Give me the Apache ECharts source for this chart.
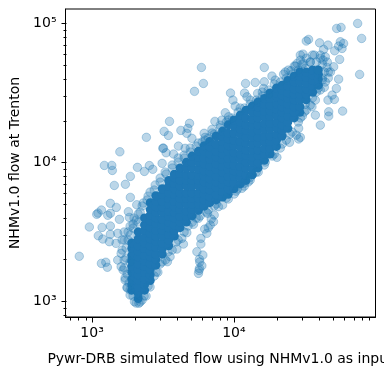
<!DOCTYPE html>
<html>
<head>
<meta charset="utf-8">
<style>html,body{margin:0;padding:0;background:#fff}#c{width:384px;height:375px}</style>
<script src="https://cdn.jsdelivr.net/npm/echarts@6/dist/echarts.min.js"></script>
</head>
<body>
<div id="c"></div>
<script>
// log10 of flows
const scatteredLog = [
[3.383,4.180],[3.196,4.076],[3.087,3.978],[3.139,3.978],[3.143,3.942],[3.320,3.964],[3.404,3.977],[3.369,3.935],[3.270,3.899],[3.235,3.842],[3.157,3.834],[3.270,3.748],[3.129,3.705],[3.171,3.676],[3.066,3.657],[3.033,3.626],[3.042,3.635],[2.981,3.535],[3.071,3.532],[3.129,3.633],[3.111,3.619],[3.129,3.542],[3.193,3.590],[3.256,3.645],[3.315,3.695],[3.263,3.604],[3.499,4.101],[3.494,3.993],[3.428,3.950],[2.910,3.324],[3.066,3.273],[3.097,3.281],[3.108,3.245],[3.181,3.297],[3.044,3.472],[3.076,3.448],[3.129,3.482],[3.122,3.429],[3.169,3.417],[3.181,3.489],[3.205,3.345],[3.205,3.249],[3.464,3.209],[3.247,3.101],[3.517,3.297],
[3.750,3.201],[3.757,3.237],[3.774,3.256],[3.757,3.302],[3.781,3.333],[3.739,3.357],[3.767,3.412],[3.767,3.453],[3.809,3.489],[3.833,3.549],[3.856,3.573],[3.861,3.621],[3.814,3.633],[3.759,3.283],[3.754,3.222],[3.794,3.520],[3.819,3.529],[3.840,3.592],
[3.531,3.285],[3.550,3.321],[3.598,3.376],[3.644,3.412],[3.633,3.453],[3.668,3.494],[3.715,3.554],[3.750,3.597],[3.920,3.693],[3.891,3.681],[4.056,3.813],[4.073,3.849],[4.025,3.808],[4.115,3.892],
[3.771,4.683],[3.785,4.568],[3.722,4.511],[3.546,4.295],[3.508,4.223],[3.538,4.194],[3.687,4.281],[3.626,4.230],[3.675,4.245],[3.668,4.209],[3.704,4.173],[3.503,4.103],[3.609,4.117],[3.656,4.101],[3.574,4.060],[3.522,4.069],[3.866,4.295],[3.845,4.237],[3.790,4.209],[3.797,4.180],[3.939,4.357],[4.082,4.568],[3.976,4.499],[3.993,4.448],[4.075,4.499],[4.092,4.472],[4.009,4.405],[3.962,4.328],[3.915,4.304],
[4.766,4.369],[4.722,4.532],[4.738,4.599],[4.692,4.484],[4.708,4.453],[4.663,4.448],[4.668,4.364],[4.668,4.333],[4.609,4.268],[4.574,4.340],[4.637,4.540],[4.550,4.400],[4.456,4.245],[4.392,4.144],[4.468,4.180],[4.440,4.196],[4.456,4.168],[4.303,4.036],[4.268,4.621],[4.214,4.683],[4.150,4.575],[4.214,4.580],[4.167,4.496],[4.209,4.532],[4.350,4.635],[4.402,4.659],[4.480,4.707],[4.244,4.489],[4.703,4.688],[4.656,4.683],[4.872,5.000],[4.755,4.971],[4.724,4.964],[4.900,4.892],[4.886,4.633],[4.526,4.885],[4.510,4.873],[4.604,4.860],[4.663,4.844],[4.750,4.868],[4.773,4.856],[4.738,4.837],[4.762,4.820],[4.710,4.803],[4.632,4.813],[4.487,4.779],[4.468,4.772],[4.567,4.772],[4.609,4.772],[4.644,4.760],[4.745,4.741],[4.628,4.736],[4.491,4.712],[4.445,4.712],
[3.226,3.499],[3.254,3.441],[3.212,3.441],[3.240,3.383],[3.268,3.477],[3.240,3.312],[3.268,3.283],[3.226,3.240],[3.247,3.196],[3.233,3.153],[3.261,3.132],[3.268,3.081],[3.289,3.038],[3.289,3.527],[3.325,3.570],[3.296,3.599],[3.339,3.642],[3.353,3.686],[3.388,3.729],[3.409,3.786],[3.445,3.837],[3.480,3.887],[3.515,3.930],[3.565,3.981],[3.607,4.031],[3.649,4.052],[3.692,4.103],[3.748,4.139],[3.797,4.160],[3.847,4.211],[3.903,4.268],[3.960,4.304],[4.044,4.391],[4.115,4.448],[4.200,4.506],[4.291,4.592],[4.362,4.650],[4.433,4.693],[4.538,4.722],
[3.409,3.103],[3.381,3.038],[3.330,2.986],[3.299,2.997],[3.353,3.009],[3.452,3.211],[3.494,3.283],[3.565,3.369],[3.607,3.441],[3.677,3.542],[3.734,3.599],[3.804,3.642],[3.861,3.686],[3.960,3.736],[4.002,3.772],[4.101,3.858],[4.157,3.930],[4.221,4.002],[4.284,4.060],[4.341,4.132],[4.397,4.204],[4.468,4.319],[4.510,4.376],[4.581,4.506],[4.623,4.592],[4.665,4.650],
[4.503,4.678],[4.538,4.722],[4.581,4.722],[4.623,4.707],[4.658,4.722],[4.680,4.650],[4.665,4.607],[4.609,4.750],[4.553,4.772],[4.510,4.750],[4.454,4.664],[4.411,4.635],[4.369,4.607],[4.327,4.578],[4.284,4.564],[4.242,4.521],[4.200,4.478],[4.157,4.448],[4.115,4.419],[4.073,4.391],[4.030,4.362],[3.988,4.319],[3.946,4.290],[3.903,4.247],[3.861,4.203],[3.819,4.175],[3.776,4.146],[3.734,4.117],[3.692,4.074],[3.649,4.031],[3.607,4.002],[3.565,3.959],[3.522,3.916],[3.480,3.858],[3.438,3.801],[3.395,3.757],[3.360,3.707],[3.325,3.628],[3.289,3.556],[3.254,3.499],[3.226,3.441],[3.212,3.369],[3.226,3.297],[3.219,3.225],[3.233,3.168],[3.247,3.096],[3.268,3.045],
[4.644,4.578],[4.609,4.521],[4.574,4.448],[4.538,4.412],[4.496,4.362],[4.454,4.290],[4.411,4.218],[4.369,4.160],[4.327,4.103],[4.270,4.045],[4.214,3.981],[4.171,3.930],[4.115,3.873],[4.073,3.829],[4.016,3.793],[3.946,3.743],[3.875,3.700],[3.819,3.657],[3.762,3.614],[3.706,3.570],[3.649,3.499],[3.593,3.427],[3.536,3.355],[3.480,3.268],[3.438,3.182],[3.395,3.110],[3.367,3.038],[3.339,2.995],[3.311,2.987],
[3.268,3.541],[3.311,3.585],[4.468,4.736],[4.425,4.693],[4.383,4.664],[4.588,4.664],[4.637,4.650],[4.623,4.607],[4.595,4.535],[4.553,4.463],[4.503,4.419],[4.482,4.333]
];
// dense body of the cloud, grouped by input flow
const denseInputLog = [3.28,3.325,3.37,3.41,3.45,3.495,3.54,3.58,3.62,3.665,3.705,3.75,3.79,3.83,3.875,3.92,3.96,4.00,4.045,4.085,4.13,4.17,4.215,4.255,4.30,4.34,4.38,4.425,4.465,4.51,4.555,4.595];
const denseTrentonLog = [
[3.08,3.12,3.16,3.21,3.25,3.29,3.33,3.38,3.42],
[3.02,3.06,3.10,3.15,3.19,3.23,3.27,3.32,3.36,3.40,3.45,3.50],
[3.08,3.12,3.16,3.21,3.25,3.29,3.33,3.38,3.42,3.46,3.51,3.55,3.60],
[3.15,3.19,3.23,3.27,3.32,3.36,3.40,3.45,3.49,3.53,3.58,3.62,3.66,3.71],
[3.26,3.30,3.34,3.39,3.43,3.47,3.51,3.56,3.60,3.64,3.68,3.72,3.76],
[3.34,3.38,3.42,3.47,3.51,3.55,3.59,3.64,3.68,3.72,3.77,3.81],
[3.40,3.44,3.48,3.53,3.57,3.61,3.65,3.70,3.74,3.78,3.83,3.87],
[3.47,3.51,3.55,3.60,3.64,3.68,3.72,3.77,3.81,3.85,3.89,3.915],
[3.53,3.57,3.61,3.66,3.70,3.74,3.78,3.83,3.87,3.92,3.96],
[3.57,3.61,3.65,3.70,3.74,3.78,3.83,3.87,3.91,3.96,4.00],
[3.615,3.66,3.70,3.74,3.78,3.83,3.87,3.91,3.96,4.00,4.045],
[3.655,3.70,3.74,3.78,3.83,3.87,3.91,3.95,4.00,4.04,4.08],
[3.685,3.73,3.77,3.81,3.86,3.90,3.94,3.99,4.03,4.08,4.12],
[3.71,3.75,3.80,3.84,3.88,3.93,3.97,4.02,4.06,4.11,4.15],
[3.73,3.77,3.82,3.86,3.90,3.95,3.99,4.04,4.08,4.13,4.19],
[3.75,3.79,3.84,3.88,3.93,3.97,4.02,4.06,4.10,4.15,4.19,4.225],
[3.77,3.81,3.86,3.90,3.95,3.99,4.03,4.08,4.12,4.17,4.21,4.27],
[3.81,3.85,3.90,3.94,3.98,4.03,4.07,4.12,4.16,4.21,4.26,4.305],
[3.845,3.89,3.93,3.97,4.02,4.06,4.11,4.15,4.20,4.24,4.29,4.34],
[3.87,3.91,3.96,4.00,4.05,4.09,4.14,4.18,4.23,4.27,4.32,4.375],
[3.91,3.95,4.00,4.04,4.09,4.13,4.18,4.22,4.27,4.31,4.36,4.405],
[3.96,4.00,4.05,4.09,4.14,4.18,4.23,4.27,4.32,4.36,4.40,4.435],
[4.015,4.06,4.10,4.15,4.19,4.24,4.28,4.33,4.37,4.42,4.46],
[4.06,4.10,4.15,4.19,4.24,4.28,4.33,4.37,4.41,4.46,4.50],
[4.115,4.16,4.20,4.25,4.29,4.34,4.38,4.42,4.47,4.50,4.535],
[4.19,4.23,4.27,4.32,4.36,4.40,4.44,4.48,4.52,4.555],
[4.245,4.29,4.33,4.38,4.42,4.46,4.50,4.55,4.59],
[4.32,4.36,4.40,4.45,4.49,4.53,4.58,4.62],
[4.36,4.40,4.45,4.49,4.53,4.58,4.62,4.65],
[4.45,4.49,4.53,4.57,4.61,4.65],
[4.505,4.55,4.59,4.63,4.665],
[4.555,4.60,4.635,4.665]
];
const xTickValues = [1000,10000];
const yTickValues = [1000,10000,100000];
const tickLabels = {1000:'10³',10000:'10⁴',100000:'10⁵'};
const xMinorTicks = [700,800,900,2000,3000,4000,5000,6000,7000,8000,9000,20000,30000,40000,50000,60000,70000,80000,90000];
const yMinorTicks = [800,900,2000,3000,4000,5000,6000,7000,8000,9000,20000,30000,40000,50000,60000,70000,80000,90000];
const xLabel = 'Pywr-DRB simulated flow using NHMv1.0 as input';
const yLabel = 'NHMv1.0 flow at Trenton';
const xRange = [650,99500];
const yRange = [771,127000];

const color = '#1f77b4';
const pow = v => Math.pow(10, v);
const scatterData = scatteredLog.map(p => [pow(p[0]), pow(p[1])]);
const denseData = [];
denseInputLog.forEach((x, i) => denseTrentonLog[i].forEach(y => denseData.push([pow(x), pow(y)])));

const tickSeries = (vals, isX, len) => ({
  type: 'custom', coordinateSystem: 'cartesian2d', clip: false, silent: true, z: 5,
  data: vals.map(v => isX ? [v, yRange[0]] : [xRange[0], v]),
  renderItem: (params, api) => {
    const p = api.coord([api.value(0), api.value(1)]);
    const x = Math.round(p[0]) + 0.5, y = Math.round(p[1]) + 0.5;
    return { type: 'line',
      shape: isX ? {x1: x, y1: y, x2: x, y2: y + len} : {x1: x, y1: y, x2: x - len, y2: y},
      style: {stroke: '#000', lineWidth: 1} };
  }
});

const font = 'DejaVu Sans';
const chart = echarts.init(document.getElementById('c'), null, {renderer: 'canvas'});
const axisCommon = {
  type: 'log', logBase: 10, splitLine: {show: false}, minorTick: {show: false}, minorSplitLine: {show: false},
  axisLine: {show: true, onZero: false, lineStyle: {color: '#000', width: 1}},
  axisTick: {show: false},
  axisLabel: {color: '#000', fontFamily: font, fontSize: 14, margin: 9,
    showMinLabel: true, showMaxLabel: true, hideOverlap: false,
    formatter: v => tickLabels[Math.round(v)] || ''},
  nameLocation: 'middle',
  nameTextStyle: {color: '#000', fontFamily: font, fontSize: 14}
};
chart.setOption({
  animation: false,
  backgroundColor: '#fff',
  grid: {left: 65.5, right: 8.5, top: 9, bottom: 58, show: true, borderColor: '#000', borderWidth: 1, backgroundColor: 'transparent', containLabel: false, outerBoundsMode: 'none'},
  xAxis: Object.assign({}, axisCommon, {min: xRange[0], max: xRange[1], name: xLabel, nameGap: 35}),
  yAxis: Object.assign({}, axisCommon, {min: yRange[0], max: yRange[1], name: yLabel, nameGap: 40}),
  series: [
    {type: 'scatter', data: denseData, symbolSize: 9, silent: true, large: false,
     itemStyle: {color: color, opacity: 1}, z: 2},
    {type: 'scatter', data: scatterData, symbolSize: 8.5, silent: true, large: false,
     itemStyle: {color: color, opacity: 0.3, borderColor: color, borderWidth: 1}, z: 3},
    tickSeries(xMinorTicks, true, 3),
    tickSeries(yMinorTicks, false, 3),
    tickSeries(xTickValues, true, 5),
    tickSeries(yTickValues, false, 5)
  ]
});
</script>
</body>
</html>
